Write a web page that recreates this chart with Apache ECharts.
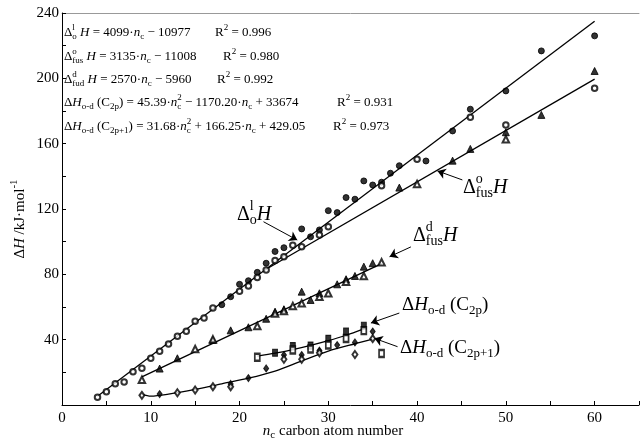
<!DOCTYPE html>
<html>
<head>
<meta charset="utf-8">
<script src="https://cdn.jsdelivr.net/npm/echarts@6/dist/echarts.min.js"></script>
<style>
  html, body { margin: 0; padding: 0; background: #fff; }
  #chart { width: 642px; height: 439px; }
</style>
</head>
<body>
<div id="chart"></div>
<script>
  // points: [n_c, dH in kJ/mol]
  var filledCircle = [[18, 61.4], [19, 66.3], [20, 73.9], [21, 76.1], [22, 81.2], [23, 86.8], [24, 94], [25, 96.3],
    [27, 107.8], [28, 103], [29, 107.2], [30, 119], [31, 117.8], [32, 127], [33, 126], [34, 137.2], [35, 134.7],
    [36, 136.4], [37, 141.9], [38, 146.5], [41, 149.4], [44, 167.8], [46, 181.1], [50, 192.3], [54, 216.8], [60, 226]]
  var openCircle = [[4, 4.7], [5, 8.1], [6, 13], [7, 14.1], [8, 20.4], [9, 22.5], [10, 28.6], [11, 32.9], [12, 37.4],
    [13, 42.1], [14, 45.1], [15, 51.3], [16, 53.3], [17, 59.4], [20, 69.6], [21, 72.9], [22, 78], [23, 82.7],
    [24, 88.4], [25, 90.8], [26, 97.8], [27, 96.9], [29, 104.1], [30, 109.2], [36, 134.3], [40, 150.5],
    [46, 176.2], [50, 171.5], [60, 193.9]]
  var filledTriangle = [[11, 22.3], [13, 28.6], [17, 39.8], [19, 45.7], [21, 47.6], [23, 52.8], [24, 57.1], [25, 58.6],
    [27, 69.4], [28, 64.3], [29, 68.4], [31, 73.9], [32, 77], [33, 79], [34, 84.7], [35, 86.8], [38, 133.1],
    [44, 149.6], [46, 156.8], [50, 167], [54, 177.6], [60, 204.5]]
  var openTriangle = [[9, 15.5], [15, 34.3], [17, 40.2], [22, 48.4], [24, 56], [25, 57.5], [26, 60.6], [27, 62.3],
    [29, 66.3], [30, 68.4], [32, 75.5], [34, 79], [36, 87.4], [40, 135.3], [50, 162.7]]
  var filledSquare = [[24, 32], [26, 36.1], [28, 36.4], [30, 40.5], [32, 44.9], [34, 48.5]]
  var openSquare = [[22, 29.2], [26, 33.7], [28, 34.3], [30, 36.7], [32, 40.7], [34, 45.5], [36, 31.5]]
  var filledDiamond = [[11, 6.7], [19, 12.9], [21, 16.5], [23, 22.4], [25, 30.6], [27, 30.6], [29, 33.3],
    [31, 36.7], [33, 38.3], [35, 45]]
  var openDiamond = [[9, 5.9], [13, 7.5], [15, 9.2], [17, 11.2], [19, 11.2], [25, 28], [27, 28], [29, 32],
    [33, 30.9], [35, 40.6]]

  // fitted lines as drawn in the figure
  var lineOl = [[4, 5.4], [60, 235]]
  var lineFusO = [[22.8, 82.5], [60, 199.5]]
  var lineFusD = [[9, 17.2], [36, 86.6]]
  var curveC2p = [[22, 29.9], [24, 31.7], [26, 33.9], [28, 36.5], [30, 39.4], [32, 42.7], [34, 46.6]]
  var curveC2p1 = [[9, 6.5], [10, 5.4], [12, 6.6], [15, 9.5], [18, 13], [21, 16.4], [24, 20.8], [27, 27],
    [30, 33], [33, 37.5], [35, 40.3]]

  // arrows: [tail, head]
  var arrows = [
    [[22.7, 112.2], [26.5, 101]],
    [[45.1, 137.8], [42.3, 143.3]],
    [[39.3, 96.8], [36.9, 90.8]],
    [[38, 56.3], [34.8, 50.2]],
    [[37.8, 35.7], [35.2, 40.8]]
  ]

  var FONT = '"Liberation Serif", "Times New Roman", serif'
  var ctx = document.createElement('canvas').getContext('2d')

  function textW (t, size, italic) {
    ctx.font = (italic ? 'italic ' : '') + size + 'px ' + FONT
    return ctx.measureText(t).width
  }

  function piece (x, y, t, fs, it) {
    return {
      type: 'text',
      x: x,
      y: y,
      silent: true,
      style: {
        text: t,
        fontSize: fs,
        fontFamily: FONT,
        fontStyle: it ? 'italic' : 'normal',
        fill: '#000',
        align: 'left',
        verticalAlign: 'middle'
      }
    }
  }

  // parts: [text, kind]; kind r | i | sub | sup | stk (stacked sup/sub)
  function richText (size, parts) {
    var els = []
    var cx = 0
    var small = Math.round(size * 0.7)
    parts.forEach(function (p) {
      var t = p[0]
      var k = p[1]
      if (k === 'stk') {
        els.push(piece(cx, -size * 0.42, p[2], small, false))
        els.push(piece(cx, size * 0.28, p[3], small, false))
        cx += Math.max(textW(p[2], small), textW(p[3], small))
        return
      }
      var fs = (k === 'sub' || k === 'sup') ? small : size
      var it = k === 'i'
      var dy = k === 'sub' ? size * 0.28 : (k === 'sup' ? -size * 0.42 : 0)
      els.push(piece(cx, dy, t, fs, it))
      cx += textW(t, fs, it)
    })
    return { children: els, width: cx }
  }

  function place (x, y, size, parts) {
    var r = richText(size, parts)
    return { type: 'group', x: x, y: y, children: r.children }
  }

  function r2 (val) {
    return [['R', 'r'], ['2', 'sup'], [' = ' + val, 'r']]
  }

  var graphics = []
  var EQ = 13
  graphics.push(place(64, 33, EQ, [['Δ', 'r'], ['', 'stk', 'l', 'o'], [' ', 'r'], ['H', 'i'], [' = 4099·', 'r'],
    ['n', 'i'], ['c', 'sub'], [' − 10977', 'r']]))
  graphics.push(place(215, 33, EQ, r2('0.996')))
  graphics.push(place(64, 57, EQ, [['Δ', 'r'], ['', 'stk', 'o', 'fus'], [' ', 'r'], ['H', 'i'], [' = 3135·', 'r'],
    ['n', 'i'], ['c', 'sub'], [' − 11008', 'r']]))
  graphics.push(place(223, 57, EQ, r2('0.980')))
  graphics.push(place(64, 80, EQ, [['Δ', 'r'], ['', 'stk', 'd', 'fud'], [' ', 'r'], ['H', 'i'], [' = 2570·', 'r'],
    ['n', 'i'], ['c', 'sub'], [' − 5960', 'r']]))
  graphics.push(place(217, 80, EQ, r2('0.992')))
  graphics.push(place(64, 103, EQ, [['Δ', 'r'], ['H', 'i'], ['o-d', 'sub'], [' (C', 'r'], ['2p', 'sub'],
    [') = 45.39·', 'r'], ['n', 'i'], ['', 'stk', '2', 'c'], [' − 1170.20·', 'r'], ['n', 'i'], ['c', 'sub'],
    [' + 33674', 'r']]))
  graphics.push(place(337, 103, EQ, r2('0.931')))
  graphics.push(place(64, 127, EQ, [['Δ', 'r'], ['H', 'i'], ['o-d', 'sub'], [' (C', 'r'], ['2p+1', 'sub'],
    [') = 31.68·', 'r'], ['n', 'i'], ['', 'stk', '2', 'c'], [' + 166.25·', 'r'], ['n', 'i'], ['c', 'sub'],
    [' + 429.05', 'r']]))
  graphics.push(place(333, 127, EQ, r2('0.973')))

  // curve labels
  graphics.push(place(237, 215, 20, [['Δ', 'r'], ['', 'stk', 'l', 'o'], ['H', 'i']]))
  graphics.push(place(463, 188, 20, [['Δ', 'r'], ['', 'stk', 'o', 'fus'], ['H', 'i']]))
  graphics.push(place(413, 236, 20, [['Δ', 'r'], ['', 'stk', 'd', 'fus'], ['H', 'i']]))
  graphics.push(place(402, 305, 19, [['Δ', 'r'], ['H', 'i'], ['o-d', 'sub'], [' (C', 'r'], ['2p', 'sub'], [')', 'r']]))
  graphics.push(place(400, 348, 19, [['Δ', 'r'], ['H', 'i'], ['o-d', 'sub'], [' (C', 'r'], ['2p+1', 'sub'], [')', 'r']]))

  // axis titles
  var xt = richText(15, [['n', 'i'], ['c', 'sub'], [' carbon atom number', 'r']])
  graphics.push({ type: 'group', x: 333 - xt.width / 2, y: 431, children: xt.children })
  var yt = richText(15, [['Δ', 'r'], ['H', 'i'], [' /kJ·mol', 'r'], ['-1', 'sup']])
  graphics.push({
    type: 'group',
    x: 20,
    y: 219,
    rotation: Math.PI / 2,
    children: [{ type: 'group', x: -yt.width / 2, y: 0, children: yt.children }]
  })

  function markers (data, symbol, size) {
    return {
      type: 'scatter',
      data: data,
      symbol: symbol,
      symbolSize: size,
      z: 3,
      silent: true,
      itemStyle: { color: '#000', borderColor: '#000', borderWidth: 1 }
    }
  }

  function fitLine (data, smooth) {
    return {
      type: 'line',
      data: data,
      smooth: smooth || false,
      symbol: 'none',
      z: 2,
      silent: true,
      lineStyle: { color: '#000', width: 1.3 }
    }
  }

  var axisCommon = {
    axisLine: { onZero: false, lineStyle: { color: '#000', width: 1 } },
    axisTick: { inside: true, length: 4, lineStyle: { color: '#000' } },
    splitLine: { show: false }
  }

  var chart = echarts.init(document.getElementById('chart'))
  chart.setOption({
    animation: false,
    backgroundColor: '#fff',
    grid: { left: 62, right: 0, top: 13, bottom: 34 },
    xAxis: [
      Object.assign({
        type: 'value',
        min: 0,
        max: 65,
        interval: 5,
        axisLabel: {
          formatter: function (v) { return v % 10 === 0 ? String(v) : '' },
          fontFamily: FONT,
          fontSize: 15,
          color: '#000',
          margin: 6
        }
      }, axisCommon),
      {
        type: 'value',
        position: 'top',
        min: 0,
        max: 65,
        axisLine: { show: true, onZero: false, lineStyle: { color: '#999', width: 1 } },
        axisTick: { show: false },
        axisLabel: { show: false },
        splitLine: { show: false }
      }
    ],
    yAxis: Object.assign({
      type: 'value',
      min: 0,
      max: 240,
      interval: 20,
      axisLabel: {
        formatter: function (v) { return (v % 40 === 0 && v !== 0) ? String(v) : '' },
        fontFamily: FONT,
        fontSize: 15,
        color: '#000',
        margin: 3
      }
    }, axisCommon),
    series: [
      fitLine(lineOl),
      fitLine(lineFusO),
      fitLine(lineFusD),
      fitLine(curveC2p, 0.3),
      fitLine(curveC2p1, 0.3),
      markers(filledCircle, 'circle', 6),
      markers(openCircle, 'emptyCircle', 5.5),
      markers(filledTriangle, 'triangle', 7),
      markers(openTriangle, 'emptyTriangle', 6.5),
      markers(filledSquare, 'rect', [5, 7]),
      markers(openSquare, 'emptyRect', [5, 7]),
      markers(filledDiamond, 'diamond', [5, 7]),
      markers(openDiamond, 'emptyDiamond', [5, 7]),
      {
        type: 'line',
        data: [],
        silent: true,
        markLine: {
          silent: true,
          symbol: ['none', 'arrow'],
          symbolSize: 8,
          label: { show: false },
          lineStyle: { color: '#000', width: 1, type: 'solid' },
          data: arrows.map(function (a) { return [{ coord: a[0] }, { coord: a[1] }] })
        }
      }
    ],
    graphic: graphics
  })
</script>
</body>
</html>
